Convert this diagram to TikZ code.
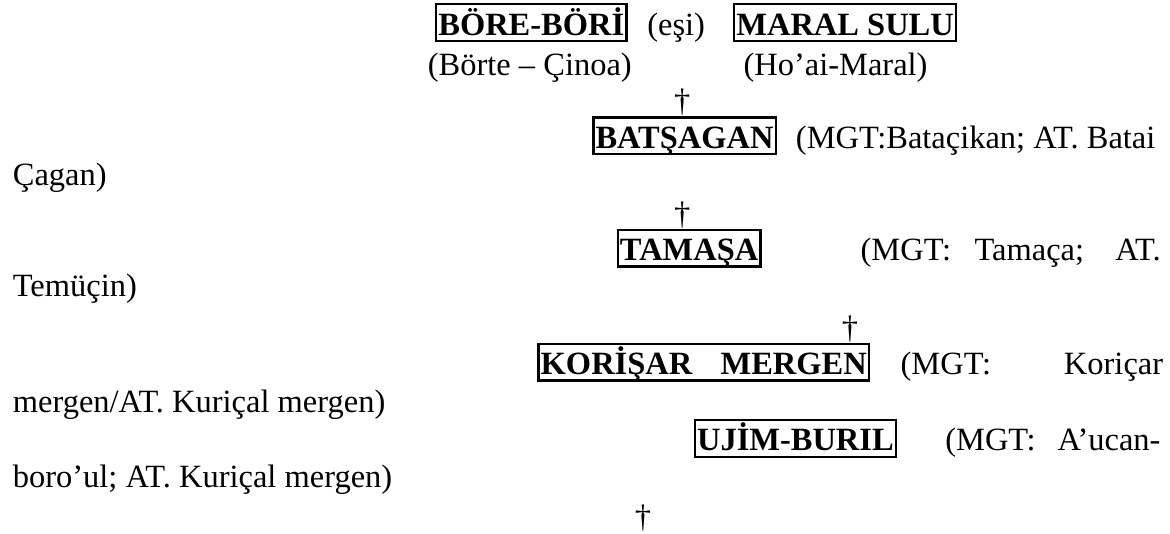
\documentclass[tikz,border=0pt]{standalone}
\usepackage{fontspec}
\setmainfont{Liberation Serif}
\usepackage{tikz}
\usepackage{xcolor}

\begin{document}
\begin{tikzpicture}[font=\fontsize{12}{14}\selectfont,
        namebox/.style={draw,line width=0.9pt,font=\fontsize{12}{14}\selectfont\bfseries,inner xsep=0.8pt,inner ysep=0pt,text height=11.4pt,text depth=2.2pt,anchor=base},
        txt/.style={inner sep=0pt,anchor=base west},
        dag/.style={inner sep=0pt,anchor=south}]
        \useasboundingbox (0,0) rectangle (15.195,6.935);
        \draw (6.90,6.48) node[namebox](bore) {BÖRE-BÖRİ};
        \draw (8.40,6.48) node[txt](esi) {(eşi)};
        \draw (9.52,6.48) node[namebox,anchor=base west](maral) {MARAL SULU};
        \draw (5.55,5.96) node[txt](borte) {(Börte – Çinoa)};
        \draw (9.65,5.96) node[txt](hoai) {(Ho’ai-Maral)};
        \draw (8.89,5.01) node[namebox](bat) {BATŞAGAN};
        \draw (8.86,0 |- bat.north) node[dag](dag1) {\textdagger};
        \draw (10.33,5.01) node[txt](battxt) {(MGT:Bataçikan; AT. Batai};
        \draw (0.16,4.52) node[txt](cagan) {Çagan)};
        \draw (8.95,3.55) node[namebox](tam) {TAMAŞA};
        \draw (8.86,0 |- tam.north) node[dag](dag2) {\textdagger};
        \draw (11.17,3.55) node[txt](tamtxt) {\makebox[110.9pt][s]{(MGT: Tamaça; AT.}};
        \draw (0.16,3.08) node[txt](temucin) {Temüçin)};
        \draw (9.14,2.07) node[namebox](kor) {\makebox[120.5pt][s]{KORİŞAR MERGEN}};
        \draw (11.04,0 |- kor.north) node[dag](dag3) {\textdagger};
        \draw (11.69,2.07) node[txt](kortxt) {\makebox[97pt][s]{(MGT: Koriçar}};
        \draw (0.16,1.58) node[txt](mergen) {mergen/AT. Kuriçal mergen)};
        \draw (10.33,1.08) node[namebox](ujim) {UJİM-BURIL};
        \draw (12.27,1.08) node[txt](ujimtxt) {\makebox[79.5pt][s]{(MGT: A’ucan-}};
        \draw (0.16,0.61) node[txt](boro) {boro’ul; AT. Kuriçal mergen)};
        \draw (8.35,0.03) node[dag](dag4) {\textdagger};
    \end{tikzpicture}
\end{document}
